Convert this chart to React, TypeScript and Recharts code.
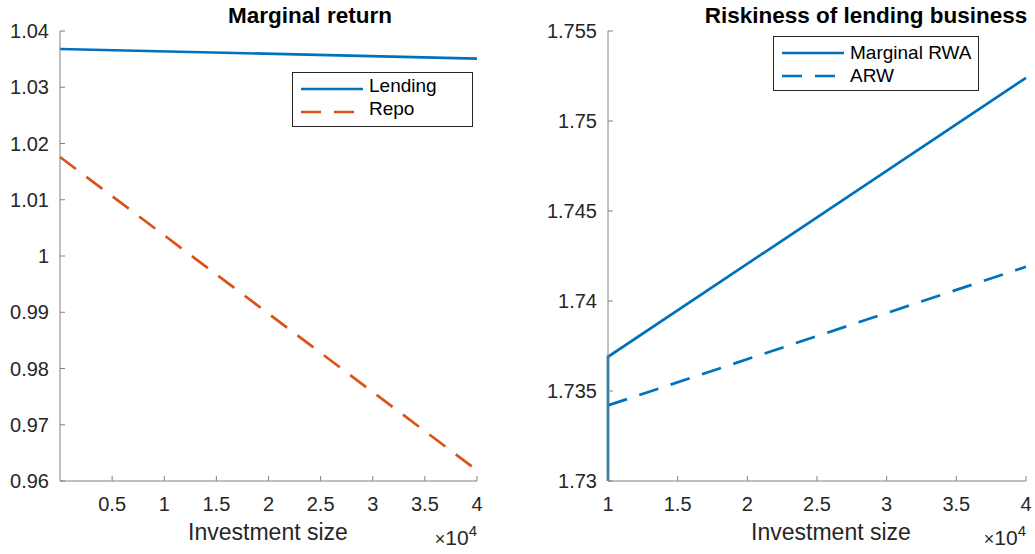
import React from "react";
import { LineChart, Line, XAxis, YAxis, Legend } from "recharts";

// values (x in raw units, shown as ×10^4)
const leftX = [0, 40000];
const lending = [1.0368, 1.0351];
const repo = [1.0176, 0.9619];

const rwaX = [10000, 10000, 40000];
const marginalRwa = [1.73, 1.7369, 1.7524];
const arwX = [10000, 40000];
const arw = [1.7342, 1.7419];

const leftXTicks = [5000, 10000, 15000, 20000, 25000, 30000, 35000, 40000];
const leftYTicks = [0.96, 0.97, 0.98, 0.99, 1, 1.01, 1.02, 1.03, 1.04];
const rightXTicks = [10000, 15000, 20000, 25000, 30000, 35000, 40000];
const rightYTicks = [1.73, 1.735, 1.74, 1.745, 1.75, 1.755];

const seriesOrder = ["Lending", "Repo", "Marginal RWA", "ARW"];

const BLUE = "#0072BD";
const ORANGE = "#D95319";
const FONT = "'Liberation Sans', Arial, Helvetica, sans-serif";
const AXIS = "#808080";
const TEXT = "#262626";
const LW = 2.7;

const toPoints = (xs: number[], ys: number[]) => xs.map((x, i) => ({ x, y: ys[i] }));

const fmtX = (v: number) => String(parseFloat((v / 10000).toFixed(2)));
const fmtY = (v: number) => String(parseFloat(v.toFixed(3)));

const dashes: Record<string, string | undefined> = {
  Lending: undefined,
  Repo: "20 13",
  "Marginal RWA": undefined,
  ARW: "20 13",
};

function BoxLegend(props: any) {
  const items = [...(props.payload || [])].sort(
    (a: any, b: any) => seriesOrder.indexOf(a.value) - seriesOrder.indexOf(b.value)
  );
  return (
    <div
      style={{
        width: props.boxWidth,
        height: 55,
        border: "1px solid #262626",
        background: "#fff",
        boxSizing: "border-box",
        position: "relative",
        fontFamily: FONT,
        fontSize: 19,
        color: "#000",
      }}
    >
      {items.map((it: any, i: number) => (
        <div key={it.value} style={{ position: "absolute", left: 0, top: 4 + i * 23, height: 23, width: "100%" }}>
          <svg width={70} height={23} style={{ position: "absolute", left: 0, top: 0 }}>
            <line x1={8} x2={70} y1={12} y2={12} stroke={it.color} strokeWidth={LW} strokeDasharray={dashes[it.value]} />
          </svg>
          <span style={{ position: "absolute", left: 76, top: props.textShift || 0, lineHeight: "23px" }}>{it.value}</span>
        </div>
      ))}
    </div>
  );
}

const tickStyle = { fontSize: 20, fill: TEXT, fontFamily: FONT };

// titles, axis labels and the ×10^4 multipliers
function Overlay() {
  const times10 = (right: number) => (
    <text x={right} y={545} textAnchor="end" fontFamily={FONT} fill={TEXT} fontSize={21}>
      <tspan fontSize={18}>×</tspan>
      <tspan>10</tspan>
      <tspan fontSize={15} dy={-9}>4</tspan>
    </text>
  );
  return (
    <svg width={1035} height={554} style={{ position: "absolute", left: 0, top: 0, pointerEvents: "none" }}>
      <text x={310} y={23} textAnchor="middle" fontFamily={FONT} fontWeight="bold" fontSize={22.5} fill="#000">
        Marginal return
      </text>
      <text x={866} y={23} textAnchor="middle" fontFamily={FONT} fontWeight="bold" fontSize={22.5} fill="#000">
        Riskiness of lending business
      </text>
      <text x={268} y={540} textAnchor="middle" fontFamily={FONT} fontSize={23} fill={TEXT}>
        Investment size
      </text>
      <text x={831} y={540} textAnchor="middle" fontFamily={FONT} fontSize={23} fill={TEXT}>
        Investment size
      </text>
      {times10(477)}
      {times10(1026)}
    </svg>
  );
}

export default function App() {
  return (
    <div style={{ position: "absolute", left: 0, top: 0, width: 1035, height: 554, background: "#fff", overflow: "hidden" }}>
      <div style={{ position: "absolute", left: 0, top: 0 }}>
        <LineChart width={520} height={554} margin={{ top: 31, right: 43, bottom: 0, left: 0 }}>
          <XAxis
            type="number"
            dataKey="x"
            domain={[0, 40000]}
            ticks={leftXTicks}
            tickFormatter={fmtX}
            height={73}
            tickSize={-5}
            tickMargin={21}
            tick={tickStyle}
            stroke={AXIS}
            allowDuplicatedCategory={false}
          />
          <YAxis
            type="number"
            domain={[0.96, 1.04]}
            ticks={leftYTicks}
            tickFormatter={fmtY}
            width={60}
            tickSize={-5}
            tickMargin={16}
            tick={tickStyle}
            stroke={AXIS}
          />
          <Legend
            verticalAlign="middle"
            align="center"
            layout="vertical"
            wrapperStyle={{ position: "absolute", left: 292, top: 72, width: 181, height: 55 }}
            content={(p: any) => <BoxLegend {...p} boxWidth={181} textShift={-3} />}
          />
          <Line data={toPoints(leftX, lending)} dataKey="y" name="Lending" stroke={BLUE} strokeWidth={LW} dot={false} isAnimationActive={false} />
          <Line data={toPoints(leftX, repo)} dataKey="y" name="Repo" stroke={ORANGE} strokeWidth={LW} strokeDasharray="20 13" dot={false} isAnimationActive={false} />
        </LineChart>
      </div>
      <div style={{ position: "absolute", left: 520, top: 0 }}>
        <LineChart width={515} height={554} margin={{ top: 31, right: 9, bottom: 0, left: 0 }}>
          <XAxis
            type="number"
            dataKey="x"
            domain={[10000, 40000]}
            ticks={rightXTicks}
            tickFormatter={fmtX}
            height={73}
            tickSize={-5}
            tickMargin={21}
            tick={tickStyle}
            stroke={AXIS}
            allowDuplicatedCategory={false}
          />
          <YAxis
            type="number"
            domain={[1.73, 1.755]}
            ticks={rightYTicks}
            tickFormatter={fmtY}
            width={88}
            tickSize={-5}
            tickMargin={16}
            tick={tickStyle}
            stroke={AXIS}
          />
          <Legend
            verticalAlign="middle"
            align="center"
            layout="vertical"
            wrapperStyle={{ position: "absolute", left: 253, top: 36, width: 206, height: 55 }}
            content={(p: any) => <BoxLegend {...p} boxWidth={206} />}
          />
          <Line data={toPoints(rwaX, marginalRwa)} dataKey="y" name="Marginal RWA" stroke={BLUE} strokeWidth={LW} dot={false} isAnimationActive={false} />
          <Line data={toPoints(arwX, arw)} dataKey="y" name="ARW" stroke={BLUE} strokeWidth={LW} strokeDasharray="20 13" dot={false} isAnimationActive={false} />
        </LineChart>
      </div>
      <Overlay />
    </div>
  );
}
